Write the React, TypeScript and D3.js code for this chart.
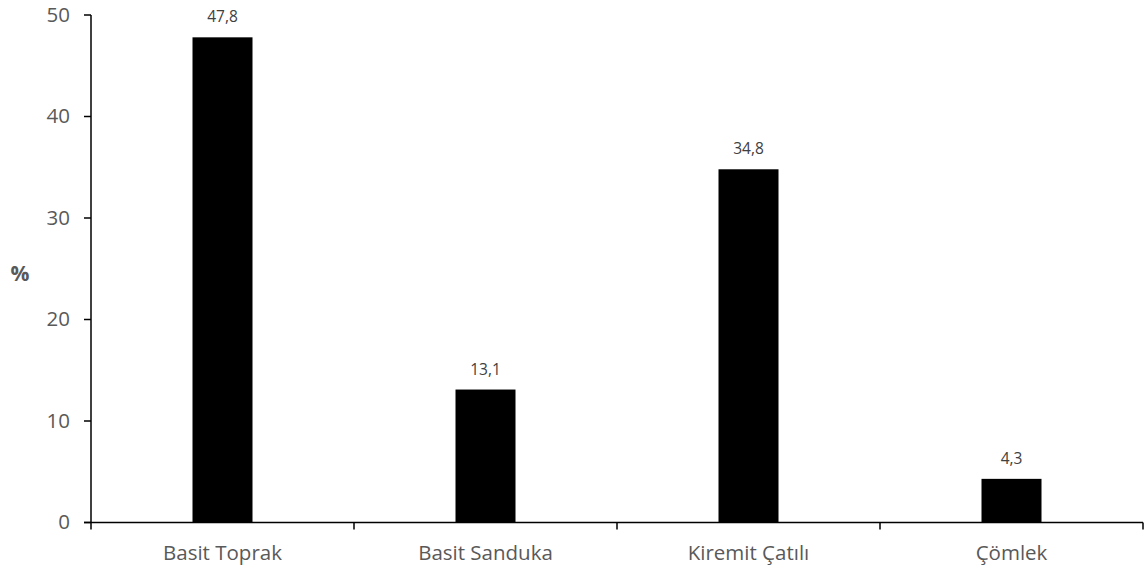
import React, { useEffect, useRef } from "react";
import * as d3 from "d3";

const categories = ["Basit Toprak", "Basit Sanduka", "Kiremit Çatılı", "Çömlek"];
const values = [47.8, 13.1, 34.8, 4.3];
const valueLabels = ["47,8", "13,1", "34,8", "4,3"];
const yTicks = [0, 10, 20, 30, 40, 50];

const W = 1148;
const H = 569;
const FONT = "'Open Sans', sans-serif";

export default function App() {
  const ref = useRef<SVGSVGElement>(null);
  useEffect(() => {
    const svg = d3.select(ref.current);
    svg.selectAll("*").remove();
    const x = d3.scaleBand<string>().domain(categories).range([91, 1143]).paddingInner(0).paddingOuter(0);
    const y = d3.scaleLinear().domain([0, 50]).range([522.5, 15]);
    const bw = 60;

    // bars
    svg.append("g").selectAll("rect").data(values).join("rect")
      .attr("x", (d, i) => x(categories[i])! + x.bandwidth() / 2 - bw / 2)
      .attr("y", d => y(d))
      .attr("width", bw)
      .attr("height", d => y(0) - y(d))
      .attr("fill", "#000");

    // value labels
    svg.append("g").selectAll("text").data(values).join("text")
      .attr("x", (d, i) => x(categories[i])! + x.bandwidth() / 2)
      .attr("y", d => y(d) - 15)
      .attr("text-anchor", "middle")
      .attr("font-family", FONT)
      .attr("font-size", 15.5)
      .attr("fill", "#404040")
      .text((d, i) => valueLabels[i]);

    // y axis
    const ya = svg.append("g");
    ya.append("line").attr("x1", 91).attr("x2", 91).attr("y1", y(50)).attr("y2", y(0))
      .attr("stroke", "#000").attr("stroke-width", 1.5);
    ya.selectAll("line.t").data(yTicks).join("line").attr("class", "t")
      .attr("x1", 84).attr("x2", 91).attr("y1", d => y(d)).attr("y2", d => y(d))
      .attr("stroke", "#000").attr("stroke-width", 1.5);
    ya.selectAll("text").data(yTicks).join("text")
      .attr("x", 70).attr("y", d => y(d)).attr("dy", "0.33em")
      .attr("text-anchor", "end")
      .attr("font-family", FONT).attr("font-size", 20.5).attr("fill", "#595959")
      .text(d => String(d));

    // x axis
    const xa = svg.append("g");
    xa.append("line").attr("x1", 84).attr("x2", 1143).attr("y1", y(0)).attr("y2", y(0))
      .attr("stroke", "#000").attr("stroke-width", 1.5);
    const bounds = [...categories.map(c => x(c)!), 1143];
    xa.selectAll("line.t").data(bounds).join("line").attr("class", "t")
      .attr("x1", d => d).attr("x2", d => d).attr("y1", y(0)).attr("y2", y(0) + 7)
      .attr("stroke", "#000").attr("stroke-width", 1.5);
    xa.selectAll("text").data(categories).join("text")
      .attr("x", d => x(d)! + x.bandwidth() / 2).attr("y", 560)
      .attr("text-anchor", "middle")
      .attr("font-family", FONT).attr("font-size", 20.5).attr("fill", "#595959")
      .text(d => d);

    // y title
    svg.append("text").attr("x", 20).attr("y", 274).attr("dy", "0.35em")
      .attr("text-anchor", "middle")
      .attr("font-family", FONT).attr("font-size", 21).attr("font-weight", "bold").attr("fill", "#595959")
      .text("%");
  }, []);
  return (
    <svg ref={ref} width={W} height={H} style={{ position: "absolute", left: 0, top: 0, background: "#fff" }} />
  );
}
